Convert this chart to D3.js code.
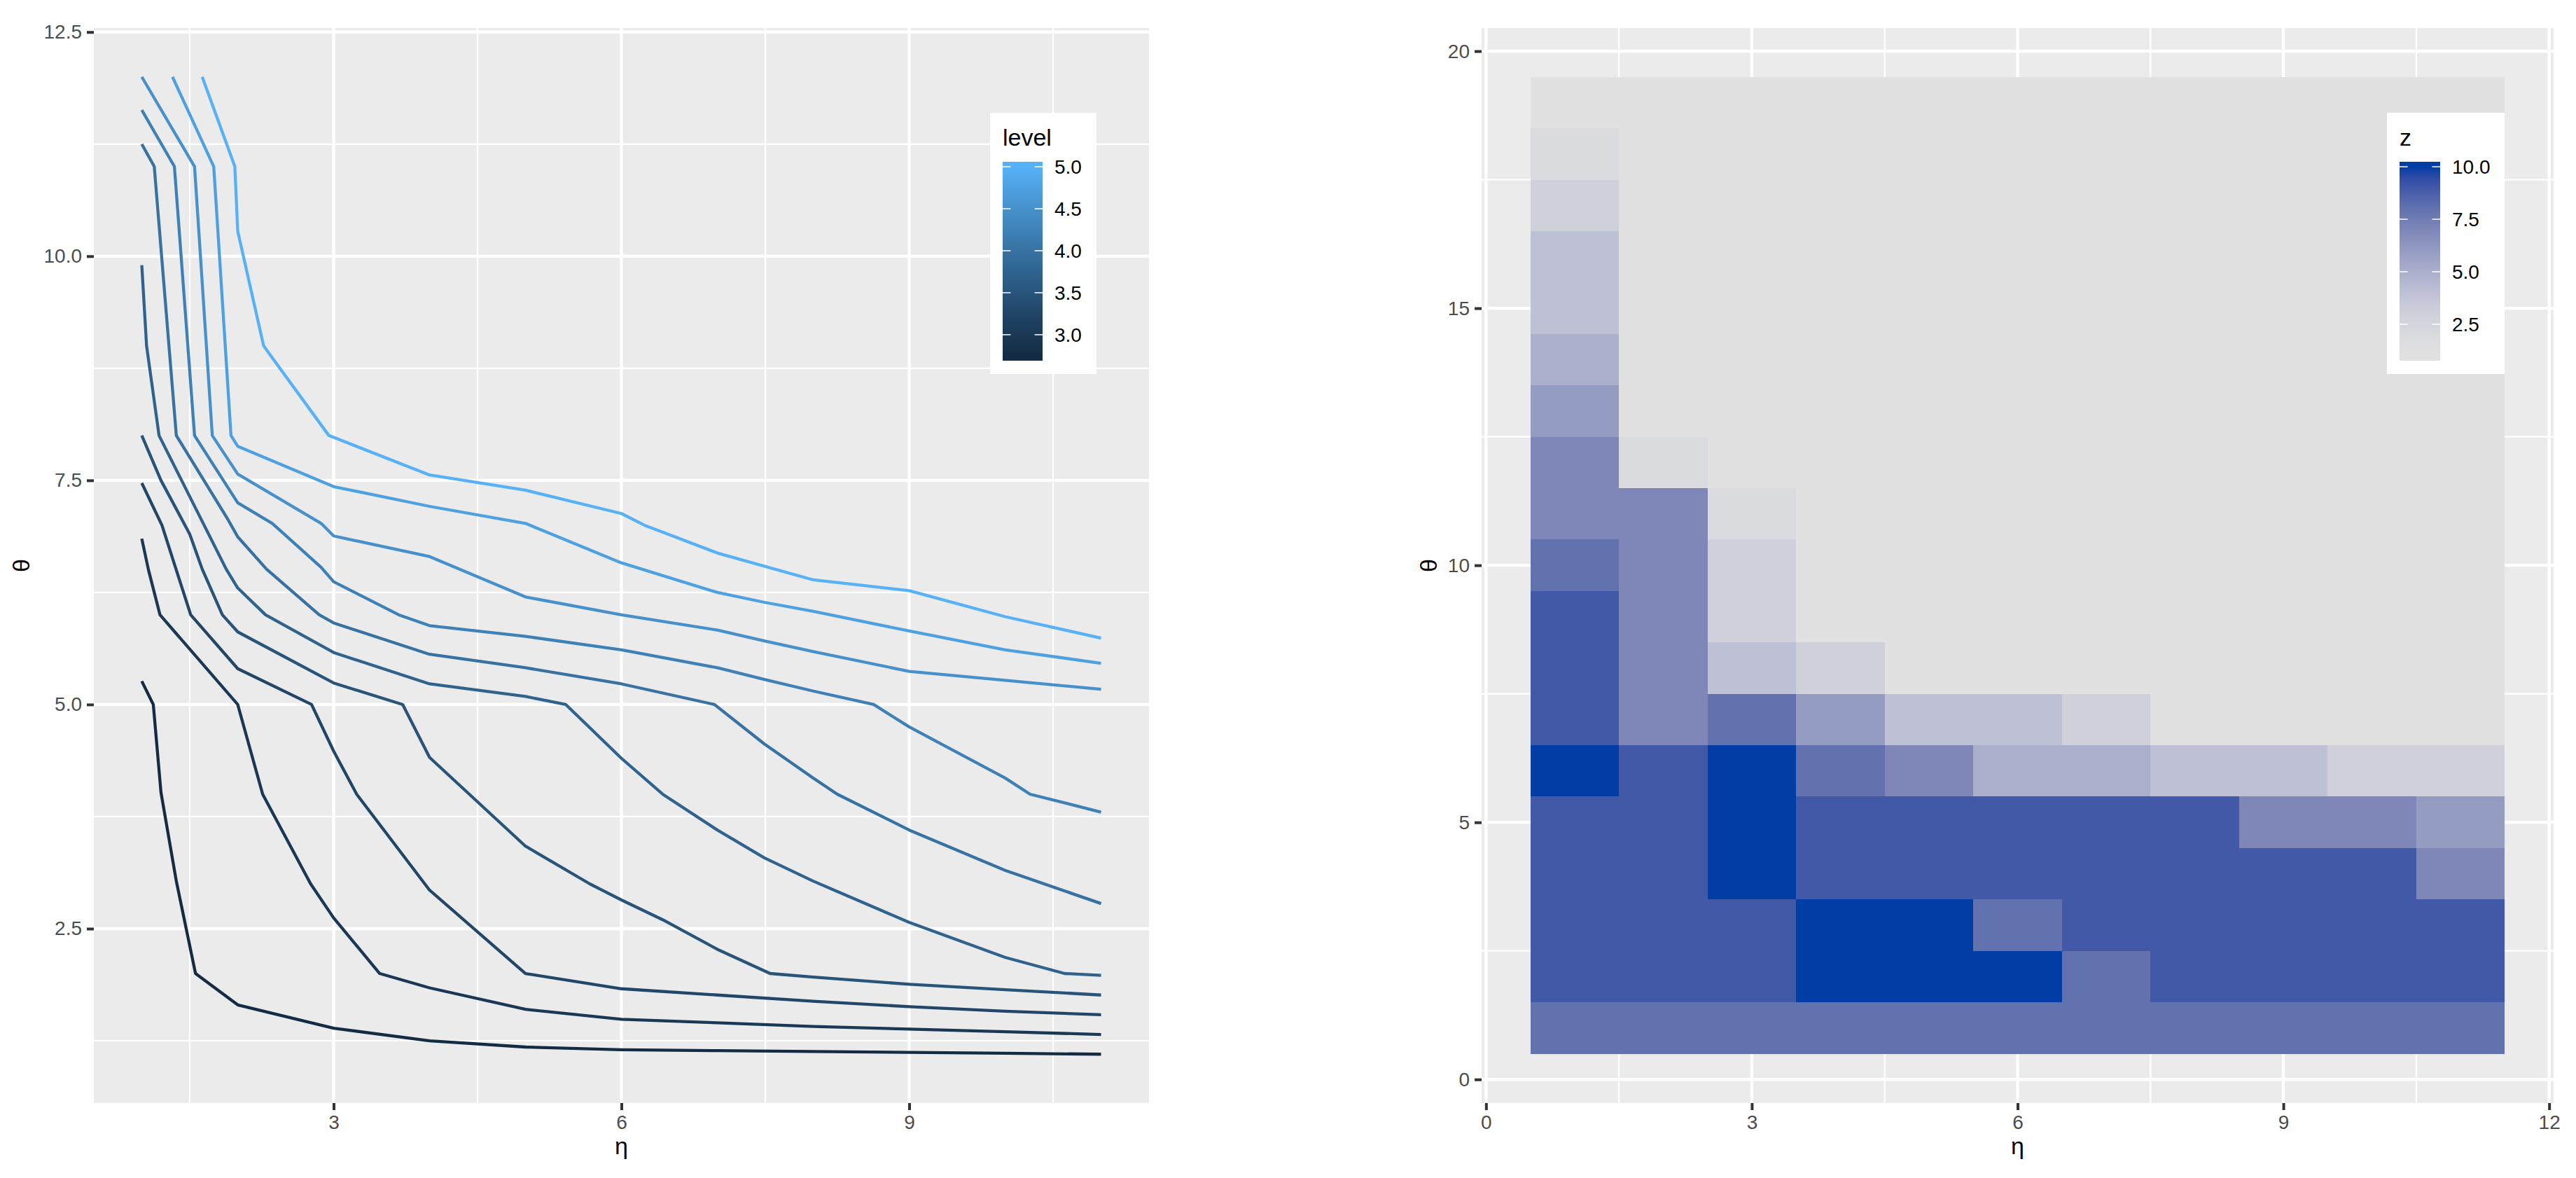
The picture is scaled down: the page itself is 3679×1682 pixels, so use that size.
<!DOCTYPE html>
<html>
<head>
<meta charset="utf-8">
<script src="https://cdn.jsdelivr.net/npm/d3@7"></script>
<style>
  body { margin: 0; background: #fff; }
  text { font-family: "Liberation Sans", Arial, Helvetica, sans-serif; }
</style>
</head>
<body>
<svg width="3679" height="1682"></svg>
<script>
// ---- data: contour plot (left) ----
const contourLevels = [2.75, 3.0, 3.25, 3.5, 3.75, 4.0, 4.25, 4.5, 4.75, 5.0];

// one path per level, points are [eta, theta]
const contour275 = [[1.0,5.26],[1.12,5.0],[1.20,4.02],[1.36,3.03],[1.56,2.0],[2.0,1.65],[3.0,1.39],[4.0,1.25],[5.0,1.18],[6.0,1.15],[7.0,1.14],[8.0,1.13],[9.0,1.12],[10.0,1.11],[11.0,1.10]];
const contour300 = [[1.0,6.85],[1.07,6.5],[1.19,6.0],[2.0,5.0],[2.26,4.0],[2.76,3.0],[3.0,2.62],[3.48,2.0],[4.0,1.84],[5.0,1.60],[6.0,1.49],[7.0,1.45],[8.0,1.41],[9.0,1.38],[10.0,1.35],[11.0,1.32]];
const contour325 = [[1.0,7.47],[1.21,7.0],[1.51,6.0],[2.0,5.40],[2.77,5.0],[3.0,4.48],[3.24,4.0],[4.0,2.93],[5.0,2.0],[6.0,1.83],[7.0,1.76],[8.0,1.69],[9.0,1.63],[10.0,1.58],[11.0,1.54]];
const contour350 = [[1.0,8.0],[1.2,7.5],[1.5,6.9],[1.63,6.51],[1.84,6.0],[2.0,5.81],[3.0,5.24],[3.72,5.0],[4.0,4.41],[5.0,3.42],[5.67,3.0],[6.0,2.82],[6.43,2.60],[7.0,2.27],[7.55,2.0],[8.0,1.96],[9.0,1.88],[10.0,1.82],[11.0,1.76]];
const contour375 = [[1.0,9.9],[1.05,9.0],[1.18,8.0],[1.88,6.51],[2.0,6.30],[2.29,6.0],[3.0,5.58],[4.0,5.23],[5.0,5.09],[5.42,5.0],[6.0,4.40],[6.43,4.0],[7.0,3.6],[7.49,3.29],[8.0,3.03],[9.0,2.57],[10.0,2.18],[10.62,2.0],[11.0,1.98]];
const contour400 = [[1.0,11.25],[1.13,11.0],[1.36,8.0],[1.90,7.06],[2.0,6.87],[2.30,6.51],[2.85,6.0],[3.0,5.91],[4.0,5.56],[5.0,5.41],[6.0,5.23],[6.97,5.0],[7.49,4.56],[8.0,4.18],[8.25,4.0],[9.0,3.60],[10.0,3.15],[11.0,2.78]];
const contour425 = [[1.0,11.63],[1.34,11.0],[1.55,8.0],[2.0,7.25],[2.36,7.02],[2.87,6.53],[3.0,6.37],[3.68,6.0],[4.0,5.88],[5.0,5.76],[6.0,5.61],[7.0,5.41],[7.49,5.28],[8.0,5.15],[8.63,5.0],[9.0,4.75],[10.0,4.18],[10.26,4.0],[11.0,3.80]];
const contour450 = [[1.0,12.0],[1.55,11.0],[1.735,8.0],[2.0,7.57],[2.87,7.02],[3.0,6.88],[4.0,6.65],[5.0,6.20],[6.0,6.0],[7.0,5.83],[7.49,5.71],[8.0,5.59],[9.0,5.37],[10.0,5.27],[11.0,5.17]];
const contour475 = [[1.32,12.0],[1.75,11.0],[1.93,8.0],[2.0,7.88],[3.0,7.43],[4.0,7.21],[5.0,7.02],[6.0,6.58],[7.0,6.25],[7.49,6.14],[8.0,6.04],[9.0,5.82],[10.0,5.61],[11.0,5.46]];
const contour500 = [[1.63,12.0],[1.97,11.0],[2.0,10.28],[2.27,9.0],[2.95,8.0],[4.0,7.56],[5.0,7.39],[6.0,7.13],[6.24,7.0],[7.0,6.69],[8.0,6.39],[9.0,6.27],[10.0,5.98],[11.0,5.74]];

const contourLines = [contour275, contour300, contour325, contour350, contour375,
                      contour400, contour425, contour450, contour475, contour500];

const levelBreaks = [3.0, 3.5, 4.0, 4.5, 5.0];
const leftXTicks = [3, 6, 9];
const leftYTicks = [2.5, 5.0, 7.5, 10.0, 12.5];

// ---- data: tile plot (right) ----
const etaValues = [1, 2, 3, 4, 5, 6, 7, 8, 9, 10, 11];
const thetaValues = [1, 2, 3, 4, 5, 6, 7, 8, 9, 10, 11, 12, 13, 14, 15, 16, 17, 18, 19];
// z per theta row (bottom to top), one value per eta column
const zRows = [
  [8, 8, 8, 8, 8, 8, 8, 8, 8, 8, 8],
  [9, 9, 9, 10, 10, 10, 8, 9, 9, 9, 9],
  [9, 9, 9, 10, 10, 8, 9, 9, 9, 9, 9],
  [9, 9, 10, 9, 9, 9, 9, 9, 9, 9, 7],
  [9, 9, 10, 9, 9, 9, 9, 9, 7, 7, 6],
  [10, 9, 10, 8, 7, 5, 5, 4, 4, 3, 3],
  [9, 7, 8, 6, 4, 4, 3, 1, 1, 1, 1],
  [9, 7, 4, 3, 1, 1, 1, 1, 1, 1, 1],
  [9, 7, 3, 1, 1, 1, 1, 1, 1, 1, 1],
  [8, 7, 3, 1, 1, 1, 1, 1, 1, 1, 1],
  [7, 7, 2, 1, 1, 1, 1, 1, 1, 1, 1],
  [7, 2, 1, 1, 1, 1, 1, 1, 1, 1, 1],
  [6, 1, 1, 1, 1, 1, 1, 1, 1, 1, 1],
  [5, 1, 1, 1, 1, 1, 1, 1, 1, 1, 1],
  [4, 1, 1, 1, 1, 1, 1, 1, 1, 1, 1],
  [4, 1, 1, 1, 1, 1, 1, 1, 1, 1, 1],
  [3, 1, 1, 1, 1, 1, 1, 1, 1, 1, 1],
  [2, 1, 1, 1, 1, 1, 1, 1, 1, 1, 1],
  [1, 1, 1, 1, 1, 1, 1, 1, 1, 1, 1]
];
const zBreaks = [2.5, 5.0, 7.5, 10.0];
const rightXTicks = [0, 3, 6, 9, 12];
const rightYTicks = [0, 5, 10, 15, 20];

// fill colours for z = 1..10
const zPalette = ['#E1E1E1', '#DADBDF', '#D0D0DB', '#BEC1D5', '#AAAFCC',
                  '#959CC2', '#7E87B8', '#6272AF', '#4259A8', '#003DA5'];

const svg = d3.select('svg');
const defs = svg.append('defs');

const font = '"Liberation Sans", Arial, Helvetica, sans-serif';
const tickText = '#4D4D4D';

// draws panel background and grid
const drawPanel = (box, xs, ys, xMajor, xMinor, yMajor, yMinor) => {
  svg.append('rect')
    .attr('x', box.left).attr('y', box.top)
    .attr('width', box.right - box.left).attr('height', box.bottom - box.top)
    .attr('fill', '#EBEBEB');
  const grid = svg.append('g').attr('stroke', '#fff');
  const vert = (vals, w) => grid.selectAll(null).data(vals).enter().append('line')
    .attr('x1', d => xs(d)).attr('x2', d => xs(d))
    .attr('y1', box.top).attr('y2', box.bottom).attr('stroke-width', w);
  const hor = (vals, w) => grid.selectAll(null).data(vals).enter().append('line')
    .attr('y1', d => ys(d)).attr('y2', d => ys(d))
    .attr('x1', box.left).attr('x2', box.right).attr('stroke-width', w);
  vert(xMinor, 2.2); hor(yMinor, 2.2);
  vert(xMajor, 4.3); hor(yMajor, 4.3);
};

// ggplot-like axes
const styleAxis = g => {
  g.select('.domain').remove();
  g.attr('font-family', font).attr('font-size', 28);
  g.selectAll('.tick line').attr('stroke', '#333').attr('stroke-width', 4);
  g.selectAll('.tick text').attr('fill', tickText);
};

const drawAxes = (box, xs, ys, xTicks, yTicks, yFmt) => {
  svg.append('g')
    .attr('transform', `translate(0, ${box.bottom})`)
    .call(d3.axisBottom(xs).tickValues(xTicks).tickSize(10).tickPadding(7).tickFormat(d3.format('d')))
    .call(styleAxis);
  svg.append('g')
    .attr('transform', `translate(${box.left}, 0)`)
    .call(d3.axisLeft(ys).tickValues(yTicks).tickSize(10).tickPadding(7).tickFormat(yFmt))
    .call(styleAxis);

  svg.append('text')
    .attr('x', (box.left + box.right) / 2).attr('y', 1638)
    .attr('dy', '0.3em').attr('text-anchor', 'middle')
    .attr('font-size', 34).text('η');
  svg.append('text')
    .attr('transform', `translate(${box.left - box.titleGap}, ${(box.top + box.bottom) / 2}) rotate(-90)`)
    .attr('dy', '0.35em').attr('text-anchor', 'middle')
    .attr('font-size', 34).text('θ');
};

// colourbar legend
const drawColourbar = (lg, colour, breaks, fmt, id) => {
  svg.append('rect')
    .attr('x', lg.x).attr('y', lg.y).attr('width', lg.w).attr('height', lg.h)
    .attr('fill', '#fff');
  svg.append('text')
    .attr('x', lg.barX).attr('y', lg.titleY)
    .attr('font-size', 34).text(lg.title);

  const dom = colour.domain();
  const lo = dom[0], hi = dom[dom.length - 1];
  const half = (lg.barBottom - lg.barTop) / 40;
  const pos = d3.scaleLinear().domain([lo, hi]).range([lg.barBottom - half, lg.barTop + half]);

  const grad = defs.append('linearGradient')
    .attr('id', id).attr('gradientUnits', 'userSpaceOnUse')
    .attr('x1', 0).attr('x2', 0).attr('y1', pos(lo)).attr('y2', pos(hi));
  grad.selectAll('stop').data(d3.range(0, 1.0001, 0.05)).enter().append('stop')
    .attr('offset', d => d)
    .attr('stop-color', d => colour(lo + d * (hi - lo)));

  svg.append('rect')
    .attr('x', lg.barX).attr('y', lg.barTop)
    .attr('width', lg.barW).attr('height', lg.barBottom - lg.barTop)
    .attr('fill', `url(#${id})`);

  const tk = svg.append('g').attr('stroke', '#fff').attr('stroke-width', 1.5);
  tk.selectAll(null).data(breaks).enter().append('line')
    .attr('x1', lg.barX).attr('x2', lg.barX + lg.barW * 0.2)
    .attr('y1', d => pos(d)).attr('y2', d => pos(d));
  tk.selectAll(null).data(breaks).enter().append('line')
    .attr('x1', lg.barX + lg.barW * 0.8).attr('x2', lg.barX + lg.barW)
    .attr('y1', d => pos(d)).attr('y2', d => pos(d));

  svg.append('g').selectAll('text').data(breaks).enter().append('text')
    .attr('x', lg.barX + lg.barW + 17).attr('y', d => pos(d))
    .attr('dy', '0.36em').attr('font-size', 28).attr('fill', '#000')
    .text(fmt);
};

// ---------- left: contour lines ----------
const renderLeft = () => {
  const box = {left: 134, right: 1641, top: 40, bottom: 1575, titleGap: 104};
  const xs = d3.scaleLinear().domain([0.5, 11.5]).range([box.left, box.right]);
  const ys = d3.scaleLinear().domain([0.555, 12.545]).range([box.bottom, box.top]);

  drawPanel(box, xs, ys, leftXTicks, [1.5, 4.5, 7.5, 10.5], leftYTicks, [1.25, 3.75, 6.25, 8.75, 11.25]);

  const colour = d3.scaleLinear()
    .domain([2.75, 5.0])
    .range(['#132B43', '#56B1F7'])
    .interpolate(d3.interpolateLab);

  const line = d3.line().x(d => xs(d[0])).y(d => ys(d[1]));

  svg.append('g').selectAll('path').data(contourLines).enter().append('path')
    .attr('d', line)
    .attr('fill', 'none')
    .attr('stroke', (d, i) => colour(contourLevels[i]))
    .attr('stroke-width', 4.3)
    .attr('stroke-linejoin', 'round')
    .attr('stroke-linecap', 'butt');

  drawAxes(box, xs, ys, leftXTicks, leftYTicks, d3.format('.1f'));

  drawColourbar({x: 1414, y: 161, w: 152, h: 373, title: 'level', titleY: 208,
                 barX: 1432, barW: 57, barTop: 231, barBottom: 515},
                colour, levelBreaks, d3.format('.1f'), 'gradLevel');
};

// ---------- right: tiles ----------
const renderRight = () => {
  const box = {left: 2116, right: 3647, top: 40, bottom: 1575, titleGap: 76};
  const xs = d3.scaleLinear().domain([-0.05, 12.05]).range([box.left, box.right]);
  const ys = d3.scaleLinear().domain([-0.46, 20.45]).range([box.bottom, box.top]);

  drawPanel(box, xs, ys, rightXTicks, [1.5, 4.5, 7.5, 10.5], rightYTicks, [2.5, 7.5, 12.5, 17.5]);

  const fill = d3.scaleLinear()
    .domain([1, 2, 3, 4, 5, 6, 7, 8, 9, 10])
    .range(zPalette)
    .interpolate(d3.interpolateLab);

  const tiles = [];
  thetaValues.forEach((theta, i) => {
    etaValues.forEach((eta, j) => tiles.push({eta, theta, z: zRows[i][j]}));
  });

  svg.append('g').attr('shape-rendering', 'crispEdges')
    .selectAll('rect').data(tiles).enter().append('rect')
      .attr('x', d => xs(d.eta - 0.5))
      .attr('y', d => ys(d.theta + 0.5))
      .attr('width', d => xs(d.eta + 0.5) - xs(d.eta - 0.5))
      .attr('height', d => ys(d.theta - 0.5) - ys(d.theta + 0.5))
      .attr('fill', d => fill(d.z));

  drawAxes(box, xs, ys, rightXTicks, rightYTicks, d3.format('d'));

  drawColourbar({x: 3409, y: 161, w: 168, h: 373, title: 'z', titleY: 208,
                 barX: 3427, barW: 58, barTop: 231, barBottom: 515},
                fill, zBreaks, d3.format('.1f'), 'gradZ');
};

renderLeft();
renderRight();
</script>
</body>
</html>
